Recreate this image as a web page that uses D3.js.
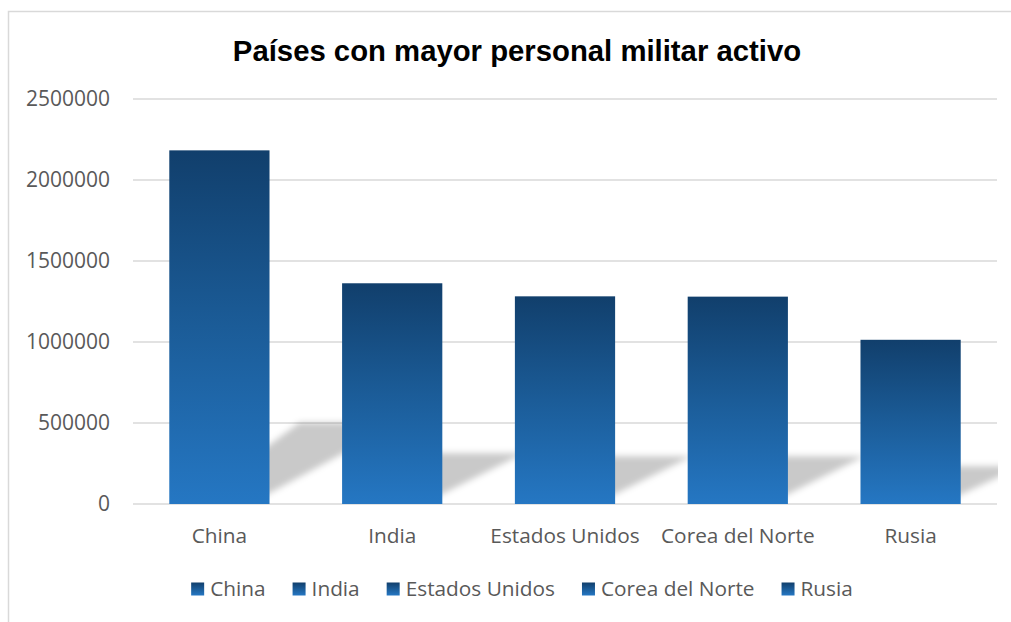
<!DOCTYPE html>
<html>
<head>
<meta charset="utf-8">
<script src="https://cdn.jsdelivr.net/npm/d3@7"></script>
<style>
  html, body { margin: 0; padding: 0; background: #fff; }
  svg { display: block; }
</style>
</head>
<body>
<svg id="chart" width="1011" height="622"></svg>
<script>
const title = "Países con mayor personal militar activo";
const categories = ["China", "India", "Estados Unidos", "Corea del Norte", "Rusia"];
const values = [2183000, 1362500, 1281900, 1280000, 1013628];
const yTicks = [0, 500000, 1000000, 1500000, 2000000, 2500000];

const W = 1011, H = 622;
const svg = d3.select("#chart");
const defs = svg.append("defs");

const grad = defs.append("linearGradient")
  .attr("id", "barGrad").attr("x1", 0).attr("y1", 0).attr("x2", 0).attr("y2", 1);
grad.append("stop").attr("offset", "0%").attr("stop-color", "#113f6c");
grad.append("stop").attr("offset", "50%").attr("stop-color", "#1b5c98");
grad.append("stop").attr("offset", "100%").attr("stop-color", "#2577c3");

const blur = defs.append("filter").attr("id", "shadowBlur")
  .attr("x", "-20%").attr("y", "-30%").attr("width", "140%").attr("height", "160%");
blur.append("feGaussianBlur").attr("stdDeviation", 3.4);

const plot = { left: 133, right: 997, top: 99, bottom: 504 };

defs.append("clipPath").attr("id", "plotClip")
  .append("rect").attr("x", plot.left).attr("y", plot.top - 20)
  .attr("width", plot.right + 1 - plot.left).attr("height", plot.bottom - plot.top + 20);

// frame
svg.append("path")
  .attr("d", `M8.5,${H} L8.5,11.5 L${W},11.5`)
  .attr("fill", "none").attr("stroke", "#d9d9d9").attr("stroke-width", 1.5);

const x = d3.scaleBand().domain(categories).range([plot.left, plot.right])
  .paddingInner(0.42).paddingOuter(0.21);
const y = d3.scaleLinear().domain([0, 2500000]).range([plot.bottom, plot.top]);

// gridlines
svg.append("g").selectAll("line").data(yTicks).join("line")
  .attr("x1", plot.left).attr("x2", plot.right)
  .attr("y1", d => y(d)).attr("y2", d => y(d))
  .attr("stroke", "#d9d9d9").attr("stroke-width", 1.5);

// y tick labels
svg.append("g").selectAll("text").data(yTicks).join("text")
  .attr("x", 110).attr("y", d => y(d)).attr("dy", "0.35em")
  .attr("text-anchor", "end")
  .attr("font-family", "'Open Sans', sans-serif").attr("font-size", 21)
  .attr("fill", "#595959")
  .text(d => d3.format("d")(d));

// shadows
const data = categories.map((c, i) => ({ c, v: values[i] }));
const sg = svg.append("g").attr("clip-path", "url(#plotClip)");
sg.selectAll("path").data(data).join("path")
  .attr("d", d => {
    const x0 = x(d.c), x1 = x0 + x.bandwidth(), w = x.bandwidth();
    const y0 = y(0);
    const h = 0.23 * (y0 - y(d.v));
    const s = 1.6 * h;
    return `M${x0 + 0.2 * w},${y0} L${x1 - 0.2 * w},${y0} L${x1 + s},${y0 - h} L${x0 + s},${y0 - h} Z`;
  })
  .attr("fill", "#000").attr("fill-opacity", 0.21)
  .attr("filter", "url(#shadowBlur)");

// bars
svg.append("g").selectAll("rect").data(data).join("rect")
  .attr("x", d => x(d.c)).attr("width", x.bandwidth())
  .attr("y", d => y(d.v)).attr("height", d => y(0) - y(d.v))
  .attr("fill", "url(#barGrad)");

// category labels
svg.append("g").selectAll("text").data(categories).join("text")
  .attr("x", d => x(d) + x.bandwidth() / 2).attr("y", 543)
  .attr("text-anchor", "middle")
  .attr("font-family", "'Open Sans', sans-serif").attr("font-size", 20.8)
  .attr("fill", "#595959")
  .text(d => d);

// title
svg.append("text")
  .attr("x", 517).attr("y", 61)
  .attr("text-anchor", "middle")
  .attr("font-family", "'Liberation Sans', Arial, sans-serif")
  .attr("font-weight", "bold").attr("font-size", 29.3)
  .attr("fill", "#000")
  .text(title);

// legend
const lg = svg.append("g");
const items = lg.selectAll("g").data(categories).join("g");
items.append("rect").attr("width", 13).attr("height", 13).attr("y", -6.5)
  .attr("fill", "url(#barGrad)");
items.append("text").attr("x", 19).attr("dy", "0.35em")
  .attr("font-family", "'Open Sans', sans-serif").attr("font-size", 20.8)
  .attr("fill", "#595959")
  .text(d => d);
let cx = 0;
const gap = 27;
items.each(function () {
  const g = d3.select(this);
  const tw = g.select("text").node().getComputedTextLength();
  g.attr("transform", `translate(${cx},0)`);
  cx += 19 + tw + gap;
});
const total = cx - gap;
lg.attr("transform", `translate(${522 - total / 2},589)`);
</script>
</body>
</html>
